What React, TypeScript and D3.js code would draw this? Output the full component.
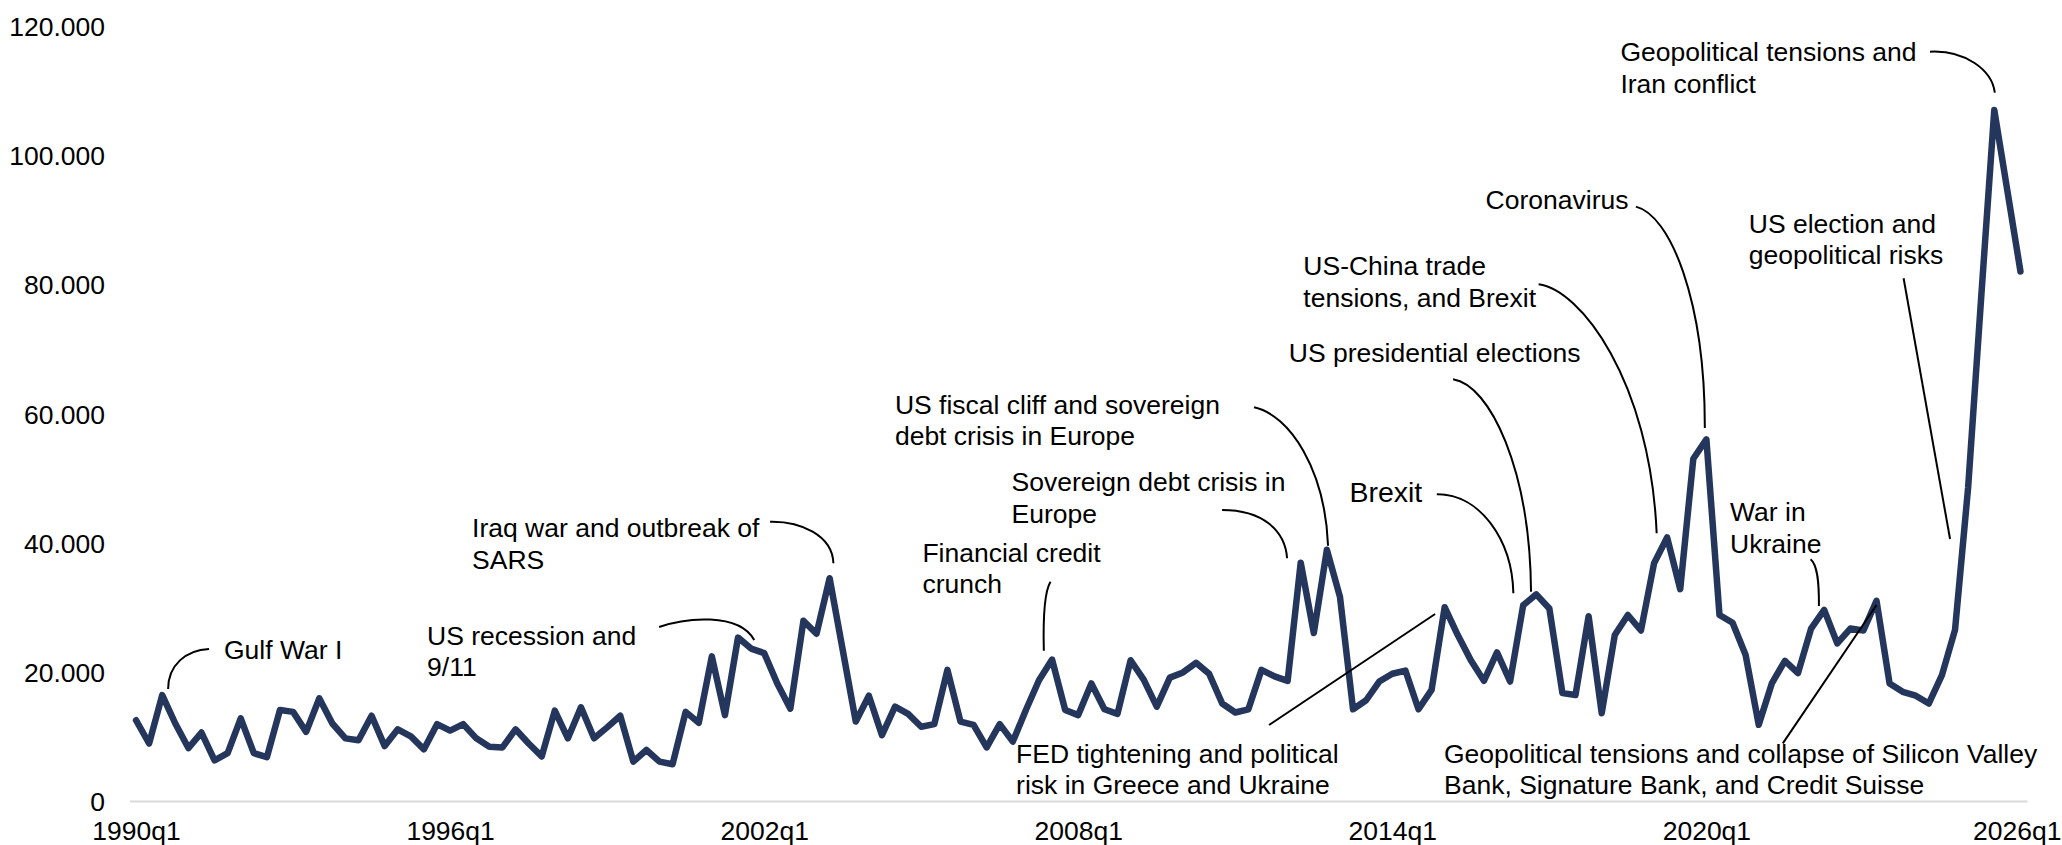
import React, { useRef, useEffect } from 'react';
import * as d3 from 'd3';

const WIDTH = 2062;
const HEIGHT = 845;
const FONT = "'Liberation Sans', Arial, Helvetica, sans-serif";
const margin = { top: 26, right: 35, bottom: 44, left: 129.5 };

// categories: 1990q1 .. 2026q1
const quarters: string[] = [];
for (let yr = 1990; yr <= 2026; yr++) {
  for (let k = 1; k <= 4; k++) quarters.push(`${yr}q${k}`);
}
quarters.splice(145);

// index value, one per quarter
const riskIndex = [
  12500, 8900, 16400, 12000, 8200, 10600, 6300, 7400, 12800, 7400,
  6800, 14100, 13800, 10700, 15900, 12000, 9700, 9400, 13200, 8500,
  11100, 10000, 8000, 11900, 10900, 11900, 9700, 8400, 8300, 11100,
  8900, 6900, 14000, 9700, 14500, 9700, 11400, 13200, 6100, 7900,
  6100, 5700, 13800, 12100, 22400, 13300, 25300, 23600, 22900, 18200,
  14300, 27900, 25900, 34500, 23400, 12300, 16300, 10200, 14600, 13500,
  11500, 11900, 20300, 12300, 11800, 8300, 11900, 9200, 14100, 18700,
  21900, 14100, 13300, 18200, 14200, 13500, 21800, 18800, 14600, 19100,
  19900, 21400, 19700, 15100, 13700, 14200, 20300, 19300, 18600, 36900,
  26000, 38900, 31600, 14200, 15600, 18500, 19700, 20200, 14200, 17200,
  30000, 25700, 21800, 18600, 23000, 18500, 30300, 32000, 29800, 16700,
  16400, 28600, 13600, 25700, 28800, 26400, 36800, 40800, 32800, 53000,
  56000, 28800, 27600, 22600, 11800, 18200, 21700, 19800, 26700, 29600,
  24400, 26700, 26400, 31000, 18200, 16900, 16300, 15100, 19500, 26500,
  48500, 78000, 107000, 94500, 82000,
];

const xTickLabels = ['1990q1', '1996q1', '2002q1', '2008q1', '2014q1', '2020q1', '2026q1'];
const yTickValues = [0, 20000, 40000, 60000, 80000, 100000, 120000];

// event notes: text anchor and leader points in (quarter index, value in thousands)
type Note = { lines: string[]; at: [number, number]; leader: [number, number][]; big?: boolean };
const notes: Note[] = [
  { lines: ['Gulf War I'], at: [6.72, 23.5],
    leader: [[5.58, 23.54], [3.82, 23.38], [2.45, 21.06], [2.45, 17.34]] },
  { lines: ['US recession and', '9/11'], at: [22.24, 25.7],
    leader: [[39.97, 26.94], [41.95, 28.34], [46.02, 29.27], [47.24, 24.93]] },
  { lines: ['Iraq war and outbreak of', 'SARS'], at: [25.68, 42.32],
    leader: [[48.45, 43.25], [50.74, 43.36], [53.22, 41.19], [53.29, 36.81]] },
  { lines: ['Financial credit', 'crunch'], at: [60.09, 38.51],
    leader: [[69.88, 33.96], [69.39, 32.36], [69.31, 28.03], [69.37, 23.27]] },
  { lines: ['US fiscal cliff and sovereign', 'debt crisis in Europe'], at: [57.99, 61.47],
    leader: [[85.43, 60.96], [88.19, 59.77], [90.86, 51.25], [91.09, 39.53]] },
  { lines: ['Sovereign debt crisis in', 'Europe'], at: [66.9, 49.44],
    leader: [[82.99, 45.06], [86.05, 45.06], [87.81, 41.96], [87.96, 37.58]] },
  { lines: ['Brexit'], at: [92.72, 47.89], big: true,
    leader: [[99.4, 47.49], [102.71, 47.54], [105.16, 40.42], [105.25, 32.16]] },
  { lines: ['US presidential elections'], at: [88.09, 69.48],
    leader: [[100.64, 65.3], [103.48, 64.42], [106.53, 51.25], [106.6, 32.41]] },
  { lines: ['US-China trade', 'tensions, and Brexit'], at: [89.2, 82.89],
    leader: [[107.18, 80.01], [110.34, 79.21], [115.7, 65.19], [116.2, 41.45]] },
  { lines: ['Coronavirus'], at: [103.13, 93.17],
    leader: [[114.61, 92.03], [117.23, 90.74], [119.9, 77.58], [119.88, 57.76]] },
  { lines: ['Geopolitical tensions and', 'Iran conflict'], at: [113.43, 116.03],
    leader: [[137.09, 116.03], [139.77, 116.29], [141.83, 113.19], [142.04, 109.68]] },
  { lines: ['US election and', 'geopolitical risks'], at: [123.24, 89.45],
    leader: [[135.07, 80.94], [138.62, 40.57]] },
  { lines: ['War in', 'Ukraine'], at: [121.81, 44.8],
    leader: [[127.96, 37.43], [128.53, 36.54], [128.61, 33.45], [128.6, 30.2]] },
  { lines: ['FED tightening and political', 'risk in Greece and Ukraine'], at: [67.25, 7.39],
    leader: [[86.58, 11.77], [99.27, 28.96]] },
  { lines: ['Geopolitical tensions and collapse of Silicon Valley', 'Bank, Signature Bank, and Credit Suisse'], at: [99.95, 7.39],
    leader: [[125.84, 8.93], [133.0, 30.35]] },
];

export default function App() {
  const svgRef = useRef<SVGSVGElement>(null);

  useEffect(() => {
    document.body.style.margin = '0';
    const svg = d3.select(svgRef.current);
    svg.selectAll('*').remove();

    const x = d3.scalePoint<string>()
      .domain(quarters)
      .range([margin.left, WIDTH - margin.right])
      .padding(0.5);
    const y = d3.scaleLinear()
      .domain([0, 120000])
      .range([HEIGHT - margin.bottom, margin.top]);

    // fractional quarter position / value in thousands -> pixels
    const xq = (q: number) => (x(quarters[0]) as number) + q * x.step();
    const yk = (v: number) => y(v * 1000);

    const locale = d3.formatLocale({ decimal: ',', thousands: '.', grouping: [3], currency: ['', ''] });
    const fmt = locale.format(',');

    // axes
    const gx = svg.append('g')
      .attr('transform', `translate(0,${y(0)})`)
      .call(d3.axisBottom(x).tickValues(xTickLabels).tickSize(0).tickSizeOuter(0));
    gx.attr('font-size', 26.5).attr('font-family', FONT);
    gx.select('.domain').attr('stroke', '#d9d9d9').attr('stroke-width', 2);
    gx.selectAll('text').attr('y', 29).attr('dy', '0.36em').attr('fill', '#000');
    // last label sits against the right edge
    gx.selectAll<SVGTextElement, string>('text')
      .filter((d) => d === xTickLabels[xTickLabels.length - 1])
      .attr('text-anchor', 'end')
      .attr('x', WIDTH - 1 - (x(xTickLabels[xTickLabels.length - 1]) as number));

    const gy = svg.append('g')
      .attr('transform', `translate(105,0)`)
      .call(d3.axisLeft(y).tickValues(yTickValues).tickFormat((d) => fmt(d as number)).tickSize(0).tickPadding(0));
    gy.attr('font-size', 26.5).attr('font-family', FONT);
    gy.select('.domain').remove();
    gy.selectAll('text').attr('dy', '0.36em').attr('fill', '#000');

    // the series
    const riskLine = d3.line<number>()
      .x((d, i) => x(quarters[i]) as number)
      .y((d) => y(d));

    svg.append('path')
      .datum(riskIndex)
      .attr('fill', 'none')
      .attr('stroke', '#25365d')
      .attr('stroke-width', 6.5)
      .attr('stroke-linejoin', 'round')
      .attr('stroke-linecap', 'round')
      .attr('d', riskLine);

    // notes and leader lines
    const gn = svg.append('g').attr('font-family', FONT).attr('fill', '#000');
    notes.forEach((n) => {
      const p = d3.path();
      const pts = n.leader.map(([q, v]) => [xq(q), yk(v)]);
      p.moveTo(pts[0][0], pts[0][1]);
      if (pts.length === 4) {
        p.bezierCurveTo(pts[1][0], pts[1][1], pts[2][0], pts[2][1], pts[3][0], pts[3][1]);
      } else {
        p.lineTo(pts[1][0], pts[1][1]);
      }
      gn.append('path')
        .attr('d', p.toString())
        .attr('fill', 'none')
        .attr('stroke', '#000')
        .attr('stroke-width', 2);

      const t = gn.append('text')
        .attr('x', xq(n.at[0]))
        .attr('y', yk(n.at[1]))
        .attr('font-size', n.big ? 28.5 : 26.5);
      n.lines.forEach((line, i) => {
        t.append('tspan')
          .attr('x', xq(n.at[0]))
          .attr('dy', i === 0 ? '0.36em' : 31.6)
          .text(line);
      });
    });
  }, []);

  return (
    <svg
      ref={svgRef}
      width={WIDTH}
      height={HEIGHT}
      style={{ display: 'block', position: 'absolute', left: 0, top: 0, background: '#fff' }}
    />
  );
}
